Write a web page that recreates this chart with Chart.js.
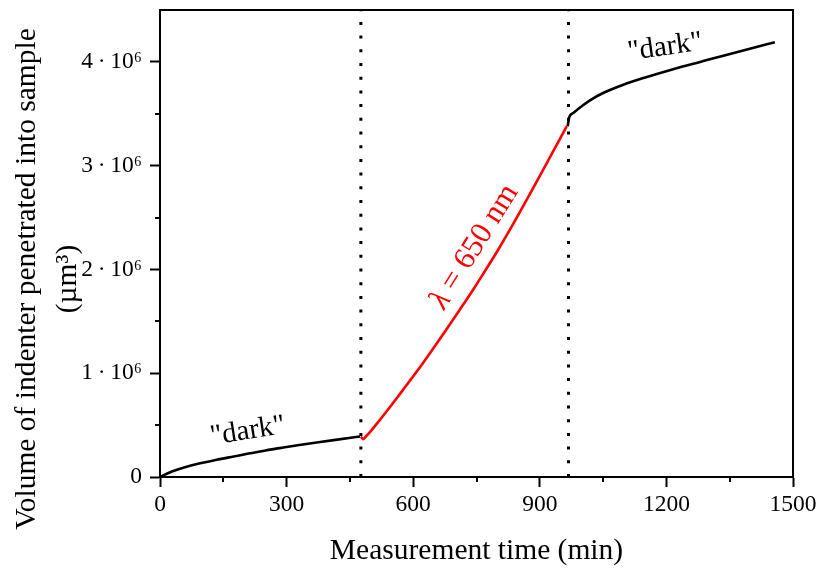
<!DOCTYPE html>
<html>
<head>
<meta charset="utf-8">
<script src="https://cdn.jsdelivr.net/npm/chart.js@4.4.1/dist/chart.umd.min.js"></script>
<style>
  html, body { margin: 0; background: #fff; }
</style>
</head>
<body>
<canvas id="volume-chart" width="820" height="570"></canvas>
<script>
// indentation volume (units of 1e6 µm³) against measurement time (min)
const darkTimesA = [0, 10, 20, 35, 55, 90, 134, 175, 213, 250, 292, 330, 371, 420, 474];
const darkVolA = [0, 0.02, 0.038, 0.062, 0.088, 0.127, 0.166, 0.198, 0.228, 0.256, 0.284, 0.308, 0.332, 0.36, 0.39];

const lightTimes = [476, 481, 490, 500, 520, 545, 575, 612, 640, 675, 710, 742, 770, 800, 840, 877, 920, 964];
const lightVol = [0.39, 0.365, 0.4, 0.445, 0.545, 0.675, 0.835, 1.035, 1.195, 1.4, 1.61, 1.805, 1.985, 2.18, 2.46, 2.73, 3.05, 3.38];

const darkTimesB = [966, 968, 970, 980, 1000, 1019, 1050, 1098, 1150, 1216, 1280, 1335, 1400, 1457];
const darkVolB = [3.38, 3.43, 3.47, 3.51, 3.575, 3.63, 3.7, 3.78, 3.85, 3.93, 4.0, 4.06, 4.13, 4.19];

// illumination switched on / off
const switchTimes = [476, 968];

const xTicks = [0, 300, 600, 900, 1200, 1500];
const yTicks = [0, 1e6, 2e6, 3e6, 4e6];

const serif = '"Liberation Serif", "Times New Roman", serif';

function toPoints(times, vols) {
  return times.map((t, i) => ({ x: t, y: vols[i] * 1e6 }));
}

function yLabel(v) {
  if (v === 0) return "0";
  return `${v / 1e6}\u2009·\u200910⁶`;
}

// text notes placed in data units
const notes = [
  { text: '"dark"', t: 208, v: 0.44e6, angle: -9, color: "#000", size: 29 },
  { text: '"dark"', t: 1197, v: 4.14e6, angle: -8, color: "#000", size: 29 },
  { text: "= 650 nm", italic: "λ ", t: 745, v: 2.22e6, angle: -58, color: "#ff0000", size: 31 },
];

const switchLines = switchTimes.map((t) => ({
  data: [{ x: t, y: 0 }, { x: t, y: 4.5e6 }],
  borderColor: "#000",
  borderWidth: 3,
  borderDash: [3, 10.7],
  pointRadius: 0,
}));

const frameAndNotes = {
  id: "frameAndNotes",
  afterDraw(chart) {
    const { ctx, chartArea: a, scales } = chart;
    ctx.save();
    ctx.strokeStyle = "#000";
    ctx.lineWidth = 2;
    ctx.beginPath();
    ctx.moveTo(a.left, a.top);
    ctx.lineTo(a.right, a.top);
    ctx.lineTo(a.right, a.bottom);
    ctx.stroke();

    // short minor ticks between the labelled ones
    ctx.beginPath();
    for (const tk of scales.x.ticks) {
      if (xTicks.includes(tk.value) || tk.value >= scales.x.max) continue;
      const px = Math.round(scales.x.getPixelForValue(tk.value));
      ctx.moveTo(px, a.bottom);
      ctx.lineTo(px, a.bottom + 5);
    }
    for (const tk of scales.y.ticks) {
      if (yTicks.includes(tk.value) || tk.value >= scales.y.max) continue;
      const py = Math.round(scales.y.getPixelForValue(tk.value));
      ctx.moveTo(a.left, py);
      ctx.lineTo(a.left - 5, py);
    }
    ctx.stroke();

    // y axis title, two lines
    ctx.fillStyle = "#000";
    ctx.font = `29.5px ${serif}`;
    ctx.textAlign = "center";
    ctx.textBaseline = "alphabetic";
    ctx.save();
    ctx.translate(35, 279);
    ctx.rotate(-Math.PI / 2);
    ctx.fillText("Volume of indenter penetrated into sample", 0, 0);
    ctx.fillText("(µm³)", 0, 41);
    ctx.restore();

    for (const n of notes) {
      const px = scales.x.getPixelForValue(n.t);
      const py = scales.y.getPixelForValue(n.v);
      ctx.save();
      ctx.translate(px, py);
      ctx.rotate((n.angle * Math.PI) / 180);
      ctx.fillStyle = n.color;
      ctx.textBaseline = "middle";
      ctx.textAlign = "left";
      const upright = `${n.size}px ${serif}`;
      const slanted = `italic ${n.size}px ${serif}`;
      ctx.font = slanted;
      const w1 = n.italic ? ctx.measureText(n.italic).width : 0;
      ctx.font = upright;
      const w2 = ctx.measureText(n.text).width;
      let x0 = -(w1 + w2) / 2;
      if (n.italic) {
        ctx.font = slanted;
        ctx.fillText(n.italic, x0, 0);
        x0 += w1;
        ctx.font = upright;
      }
      ctx.fillText(n.text, x0, 0);
      ctx.restore();
    }
    ctx.restore();
  },
};

new Chart(document.getElementById("volume-chart"), {
  type: "line",
  data: {
    datasets: [
      {
        data: toPoints(darkTimesA, darkVolA),
        borderColor: "#000",
        borderWidth: 2.6,
        pointRadius: 0,
        cubicInterpolationMode: "monotone",
      },
      {
        data: toPoints(lightTimes, lightVol),
        borderColor: "#ff0000",
        borderWidth: 2.6,
        pointRadius: 0,
        cubicInterpolationMode: "monotone",
      },
      {
        data: toPoints(darkTimesB, darkVolB),
        borderColor: "#000",
        borderWidth: 2.6,
        pointRadius: 0,
        cubicInterpolationMode: "monotone",
      },
      ...switchLines,
    ],
  },
  options: {
    responsive: false,
    animation: false,
    devicePixelRatio: 1,
    layout: { padding: { left: 0, right: 27, top: 10, bottom: 0 } },
    plugins: { legend: { display: false }, tooltip: { enabled: false } },
    scales: {
      x: {
        type: "linear",
        min: 0,
        max: 1500,
        afterFit: (scale) => {
          scale.height = 93;
          scale.paddingLeft = 0;
          scale.paddingRight = 0;
        },
        border: { display: true, color: "#000", width: 2 },
        grid: {
          drawOnChartArea: false,
          tickLength: 10,
          tickWidth: 2,
          tickColor: (c) => (xTicks.includes(c.tick.value) ? "#000" : "rgba(0,0,0,0)"),
        },
        ticks: {
          stepSize: 150,
          autoSkip: false,
          maxRotation: 0,
          padding: 4,
          color: "#000",
          font: { family: serif, size: 23.5 },
          callback: (v) => (xTicks.includes(v) ? String(v) : ""),
        },
        title: {
          display: true,
          text: "Measurement time (min)",
          color: "#000",
          font: { family: serif, size: 29.5 },
          padding: { top: 0, bottom: 1 },
        },
      },
      y: {
        type: "linear",
        min: 0,
        max: 4.5e6,
        afterFit: (scale) => {
          scale.width = 160;
          scale.paddingTop = 0;
          scale.paddingBottom = 0;
        },
        border: { display: true, color: "#000", width: 2 },
        grid: {
          drawOnChartArea: false,
          tickLength: 10,
          tickWidth: 2,
          tickColor: (c) => (yTicks.includes(c.tick.value) ? "#000" : "rgba(0,0,0,0)"),
        },
        ticks: {
          stepSize: 5e5,
          autoSkip: false,
          padding: 8,
          color: "#000",
          font: { family: serif, size: 23.5 },
          callback: (v) => (yTicks.includes(v) ? yLabel(v) : ""),
        },
      },
    },
  },
  plugins: [frameAndNotes],
});
</script>
</body>
</html>
